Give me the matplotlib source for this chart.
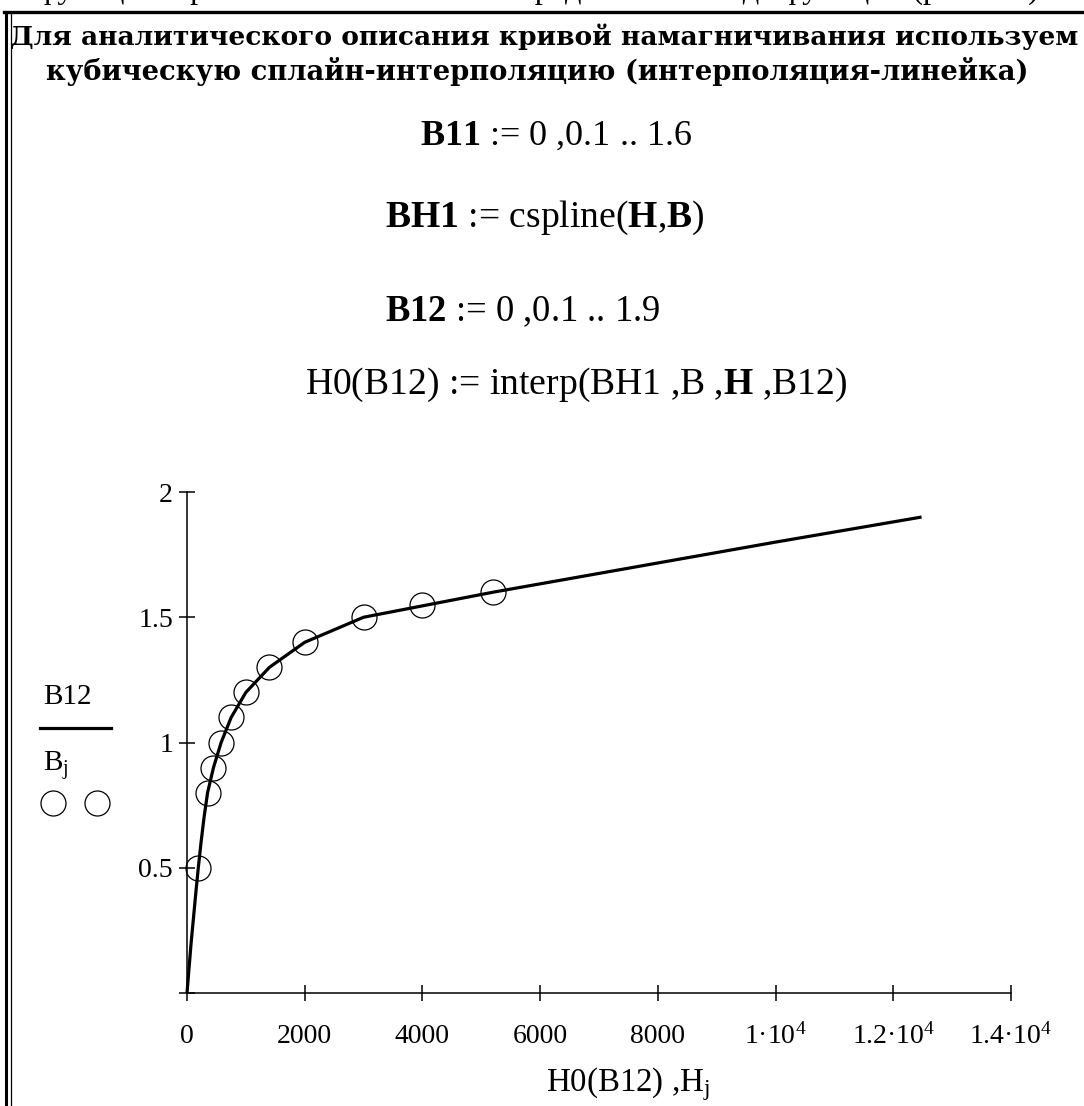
import matplotlib

matplotlib.use("Agg")
import matplotlib.pyplot as plt
from matplotlib.lines import Line2D


OUT_PATH = "out.png"

# measured points B_j(H_j)
H_DATA = [190, 350, 450, 580, 750, 1000, 1400, 2000, 3000, 4000, 5200]
B_DATA = [0.5, 0.8, 0.9, 1.0, 1.1, 1.2, 1.3, 1.4, 1.5, 1.55, 1.6]

# spline curve H0(B12), B12 = 0, 0.1 .. 1.9
B12 = [0.0, 0.1, 0.2, 0.3, 0.4, 0.5, 0.6, 0.7, 0.8, 0.9,
       1.0, 1.1, 1.2, 1.3, 1.4, 1.5, 1.6, 1.7, 1.8, 1.9]
H0 = [0, 35, 70, 110, 150, 192, 238, 289, 350, 450,
      580, 750, 1000, 1400, 2000, 3000, 5200, 7600, 10000, 12480]

X_TICKS = [0, 2000, 4000, 6000, 8000, 10000, 12000, 14000]
X_TICK_LABELS = ["0", "2000", "4000", "6000", "8000",
                 "1·10$^{4}$", "1.2·10$^{4}$", "1.4·10$^{4}$"]
Y_TICKS = [0, 0.5, 1, 1.5, 2]
Y_TICK_LABELS = ["", "0.5", "1", "1.5", "2"]

HEADER = [
    "Для аналитического описания кривой намагничивания используем",
    "кубическую сплайн-интерполяцию (интерполяция-линейка)",
]
FORMULAS = [
    r"$\mathbf{B11}$ := 0 ,0.1 .. 1.6",
    r"$\mathbf{BH1}$ := cspline($\mathbf{H}$,$\mathbf{B}$)",
    r"$\mathbf{B12}$ := 0 ,0.1 .. 1.9",
    r"H0(B12) := interp(BH1 ,B ,$\mathbf{H}$ ,B12)",
]
CLIPPED_LINE = "функцию кривой намагничивания представим в виде функции (рис. 1.6)."

W, H = 1084, 1106
SERIF = "Liberation Serif"


def fx(px: float) -> float:
    return px / W


def fy(py: float) -> float:
    return 1.0 - py / H


def fit_text(fig, renderer, text, x0, x1, yc, size, **kw):
    # put text centred between x0..x1 (pixels) and scale it to that width
    t = fig.text(fx((x0 + x1) / 2), fy(yc), text, ha="center",
                 va=kw.pop("va", "center"), fontsize=size, **kw)
    width = t.get_window_extent(renderer).width
    if width > 0:
        t.set_fontsize(size * (x1 - x0) / width)
    return t


def plot() -> None:
    plt.rcParams["font.family"] = SERIF
    plt.rcParams["mathtext.fontset"] = "custom"
    plt.rcParams["mathtext.rm"] = SERIF
    plt.rcParams["mathtext.it"] = SERIF + ":italic"
    plt.rcParams["mathtext.bf"] = SERIF + ":bold"

    fig = plt.figure(figsize=(W / 100, H / 100), dpi=100)
    renderer = fig.canvas.get_renderer()

    # window frame: top rule and double left rule
    fig.add_artist(Line2D([fx(4), 1.0], [fy(12), fy(12)], color="black", lw=2.4))
    fig.add_artist(Line2D([fx(6), fx(6)], [fy(12), 0.0], color="black", lw=2.2))
    fig.add_artist(Line2D([fx(10.5), fx(10.5)], [fy(14), 0.0], color="black", lw=0.9))

    # preceding paragraph, cut off by the top edge (only descenders show)
    fit_text(fig, renderer, CLIPPED_LINE, 40, 1045, -2.5, 22, va="baseline")

    fit_text(fig, renderer, HEADER[0], 10, 1078, 37, 20,
             family="DejaVu Serif", fontweight="bold")
    fit_text(fig, renderer, HEADER[1], 45, 1030, 72, 20,
             family="DejaVu Serif", fontweight="bold")

    fit_text(fig, renderer, FORMULAS[0], 420, 693, 136, 23)
    fit_text(fig, renderer, FORMULAS[1], 385, 705, 218, 23)
    fit_text(fig, renderer, FORMULAS[2], 385, 661, 312, 23)
    fit_text(fig, renderer, FORMULAS[3], 305, 848, 385, 23)

    # plot area: x 187..1011 px, y 993..492 px
    ax = fig.add_axes([fx(187), fy(993), fx(1011) - fx(187), fy(492) - fy(993)])
    ax.plot(H0, B12, color="black", lw=2.3, solid_capstyle="butt", clip_on=False)
    ax.plot(H_DATA, B_DATA, linestyle="none", marker="o", markersize=18,
            markerfacecolor="none", markeredgecolor="black", markeredgewidth=0.9,
            clip_on=False)

    ax.set_xlim(0, 14000)
    ax.set_ylim(0, 2)
    ax.set_xticks(X_TICKS)
    ax.set_xticklabels(X_TICK_LABELS)
    ax.set_yticks(Y_TICKS)
    ax.set_yticklabels(Y_TICK_LABELS)
    for side in ("top", "right"):
        ax.spines[side].set_visible(False)
    for side in ("left", "bottom"):
        ax.spines[side].set_linewidth(1.1)
    ax.tick_params(direction="inout", length=12, width=1.1, labelsize=20)
    ax.tick_params(axis="x", pad=16)
    ax.tick_params(axis="y", pad=4)
    ax.patch.set_alpha(0)

    fit_text(fig, renderer, r"H0(B12) ,H$_{\mathrm{j}}$", 546, 710, 1084, 21)

    # Mathcad-style trace legend on the left
    fig.text(fx(43), fy(697), "B12", ha="left", va="center", fontsize=21)
    fig.add_artist(Line2D([fx(40), fx(111)], [fy(728), fy(728)], color="black", lw=2.3))
    fig.text(fx(43), fy(765), r"B$_{\mathrm{j}}$", ha="left", va="center", fontsize=21)
    fig.add_artist(Line2D([fx(53), fx(97)], [fy(803), fy(803)], linestyle="none",
                          marker="o", markersize=18, markerfacecolor="none",
                          markeredgecolor="black", markeredgewidth=0.9))

    fig.savefig(OUT_PATH, dpi=100, facecolor="white")
    plt.close(fig)


def main() -> None:
    plot()
    print(f"Saved: {OUT_PATH}")


if __name__ == "__main__":
    main()
